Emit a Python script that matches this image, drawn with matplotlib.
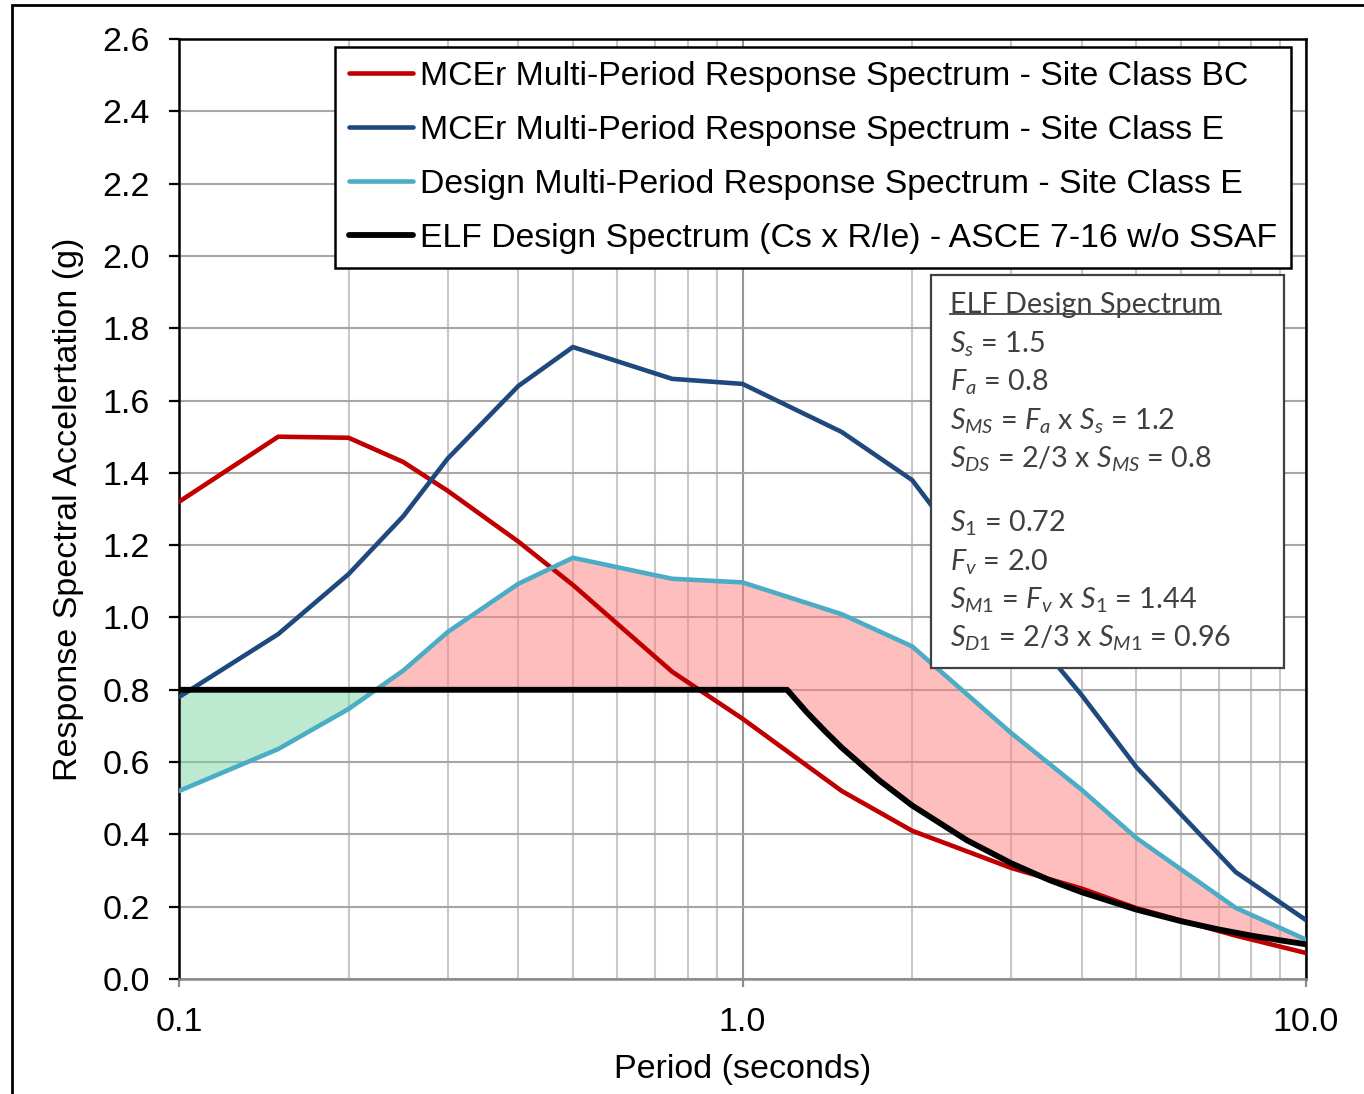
import numpy as np
import matplotlib
matplotlib.use("Agg")
import matplotlib.pyplot as plt
from matplotlib.patches import Rectangle
from matplotlib.lines import Line2D
from matplotlib.ticker import FixedLocator, NullFormatter, FixedFormatter, LogLocator

plt.rcParams['font.family'] = ['Liberation Sans', 'DejaVu Sans']
plt.rcParams['mathtext.fontset'] = 'custom'
plt.rcParams['mathtext.rm'] = 'Lato'
plt.rcParams['mathtext.it'] = 'Lato:italic'

# Multi-period spectra (period in seconds, acceleration in g)
periods = [0.1, 0.15, 0.2, 0.25, 0.3, 0.4, 0.5, 0.75, 1.0, 1.5, 2.0, 3.0, 4.0, 5.0, 7.5, 10.0]
mcer_bc = [1.32, 1.50, 1.497, 1.43, 1.35, 1.21, 1.09, 0.85, 0.72, 0.52, 0.41, 0.307, 0.25, 0.196, 0.12, 0.072]
mcer_e = [0.78, 0.954, 1.12, 1.28, 1.44, 1.64, 1.748, 1.66, 1.646, 1.513, 1.38, 1.02, 0.785, 0.586, 0.296, 0.163]
design_e = [0.52, 0.636, 0.747, 0.853, 0.96, 1.093, 1.165, 1.107, 1.097, 1.009, 0.92, 0.68, 0.523, 0.39, 0.197, 0.109]

# ELF design spectrum (Cs x R/Ie), ASCE 7-16 w/o SSAF
elf_periods = [0.1, 1.2, 1.3, 1.4, 1.5, 1.75, 2.0, 2.5, 3.0, 3.5, 4.0, 5.0, 6.0, 7.0, 8.0, 9.0, 10.0]
elf_values = [0.80, 0.80, 0.738, 0.686, 0.64, 0.549, 0.48, 0.384, 0.32, 0.274, 0.24, 0.192, 0.16, 0.137, 0.12, 0.107, 0.096]

legend_labels = [
    "MCEr Multi-Period Response Spectrum - Site Class BC",
    "MCEr Multi-Period Response Spectrum - Site Class E",
    "Design Multi-Period Response Spectrum - Site Class E",
    "ELF Design Spectrum (Cs x R/Ie) - ASCE 7-16 w/o SSAF",
]
y_ticks = [0.0, 0.2, 0.4, 0.6, 0.8, 1.0, 1.2, 1.4, 1.6, 1.8, 2.0, 2.2, 2.4, 2.6]
x_ticks = [0.1, 1.0, 10.0]
x_tick_labels = ["0.1", "1.0", "10.0"]

W, H = 1364, 1094
fig = plt.figure(figsize=(W / 100, H / 100), dpi=100)
ax = fig.add_axes([179 / W, 1 - 979 / H, (1306 - 179) / W, (979 - 39) / H])

ax.set_xscale('log')
ax.set_xlim(0.1, 10.0)
ax.set_ylim(0, 2.6)

# Shaded regions between the design spectrum and the ELF spectrum
grid_t = np.logspace(-1, 1, 3000)
lg = np.log10(grid_t)
d_i = np.interp(lg, np.log10(periods), design_e)
e_i = np.interp(lg, np.log10(elf_periods), elf_values)
ax.fill_between(grid_t, d_i, e_i, where=d_i <= e_i, interpolate=True,
                facecolor='#7dd5a5', alpha=0.5, linewidth=0, zorder=2)
ax.fill_between(grid_t, d_i, e_i, where=d_i >= e_i, interpolate=True,
                facecolor='#ff7f7f', alpha=0.5, edgecolor='#8c8c8c', linewidth=1.0, zorder=2)

l1, = ax.plot(periods, mcer_bc, color='#c00000', lw=3.3, solid_capstyle='round', zorder=4)
l2, = ax.plot(periods, mcer_e, color='#1f497d', lw=3.3, solid_capstyle='round', zorder=4)
l3, = ax.plot(periods, design_e, color='#4bacc6', lw=3.3, solid_capstyle='round', zorder=4)
l4, = ax.plot(elf_periods, elf_values, color='black', lw=4.2, solid_capstyle='round', zorder=5)

# Grid
ax.set_axisbelow(True)
ax.xaxis.set_major_locator(FixedLocator(x_ticks))
ax.xaxis.set_major_formatter(FixedFormatter(x_tick_labels))
ax.xaxis.set_minor_locator(LogLocator(base=10, subs=np.arange(2, 10)))
ax.xaxis.set_minor_formatter(NullFormatter())
ax.set_yticks(y_ticks)
ax.set_yticklabels([f"{v:.1f}" for v in y_ticks])
ax.grid(True, which='major', axis='y', color='#a6a6a6', lw=1.5, zorder=0)
ax.grid(True, which='major', axis='x', color='#969696', lw=1.5, zorder=0)
ax.grid(True, which='minor', axis='x', color='#c8c8c8', lw=1.5, zorder=0)

for s in ['top', 'left', 'right']:
    ax.spines[s].set_color('black')
    ax.spines[s].set_linewidth(1.8)
ax.spines['bottom'].set_color('#8c8c8c')
ax.spines['bottom'].set_linewidth(1.8)

ax.tick_params(axis='y', direction='out', length=7, width=1.6, color='black',
               labelsize=24.5, pad=14)
ax.tick_params(axis='x', which='major', direction='out', length=6, width=1.6,
               color='#8c8c8c', labelsize=24.5, pad=14)
ax.tick_params(axis='x', which='minor', length=0)

ax.set_xlabel("Period (seconds)", fontsize=24.5, labelpad=12)
ax.set_ylabel("Response Spectral Accelertation (g)", fontsize=24.5, labelpad=13)

leg = ax.legend([l1, l2, l3, l4], legend_labels, loc='upper right',
                bbox_to_anchor=(1291 / W, 1 - 47 / H), bbox_transform=fig.transFigure,
                borderaxespad=0, fontsize=24.3, handlelength=1.9, handletextpad=0.2,
                labelspacing=0.68, borderpad=0.42, fancybox=False, framealpha=1,
                edgecolor='black')
leg.get_frame().set_linewidth(1.8)
leg.set_zorder(10)
for h in leg.legend_handles:
    h.set_solid_capstyle('round')

# ELF parameter box
x0, y0, x1, y1 = 931, 275, 1284, 668
box = Rectangle((x0 / W, 1 - y1 / H), (x1 - x0) / W, (y1 - y0) / H, transform=fig.transFigure,
                facecolor='white', edgecolor='#404040', lw=1.6, zorder=10)
fig.patches.append(box)

txt_color = '#404040'
txt_size = 20.7
lines = [
    (305, "ELF Design Spectrum"),
    (344, r"$S_s$ = 1.5"),
    (382, r"$F_a$ = 0.8"),
    (421, r"$S_{MS}$ = $F_a$ x $S_s$ = 1.2"),
    (459, r"$S_{DS}$ = 2/3 x $S_{MS}$ = 0.8"),
    (523, r"$S_{\mathit{1}}$ = 0.72"),
    (562, r"$F_v$ = 2.0"),
    (600, r"$S_{M\mathit{1}}$ = $F_v$ x $S_{\mathit{1}}$ = 1.44"),
    (638, r"$S_{D\mathit{1}}$ = 2/3 x $S_{M\mathit{1}}$ = 0.96"),
]
texts = []
for yy, s in lines:
    t = fig.text(950 / W, 1 - yy / H, s, fontsize=txt_size, family='Lato', color=txt_color,
                 ha='left', va='center', zorder=11)
    texts.append(t)

# Underline for the box title
fig.canvas.draw()
bb = texts[0].get_window_extent().transformed(fig.transFigure.inverted())
fig.add_artist(Line2D([bb.x0, bb.x1], [bb.y0 + 0.004, bb.y0 + 0.004], transform=fig.transFigure,
                      color=txt_color, lw=1.3, zorder=11))

# Outer frame around the chart
fig.patches.append(Rectangle((12 / W, -0.5), 2.0, 0.5 + (1 - 5 / H), transform=fig.transFigure,
                             fill=False, edgecolor='black', lw=2.0, zorder=0))

fig.savefig("out.png", dpi=100)
